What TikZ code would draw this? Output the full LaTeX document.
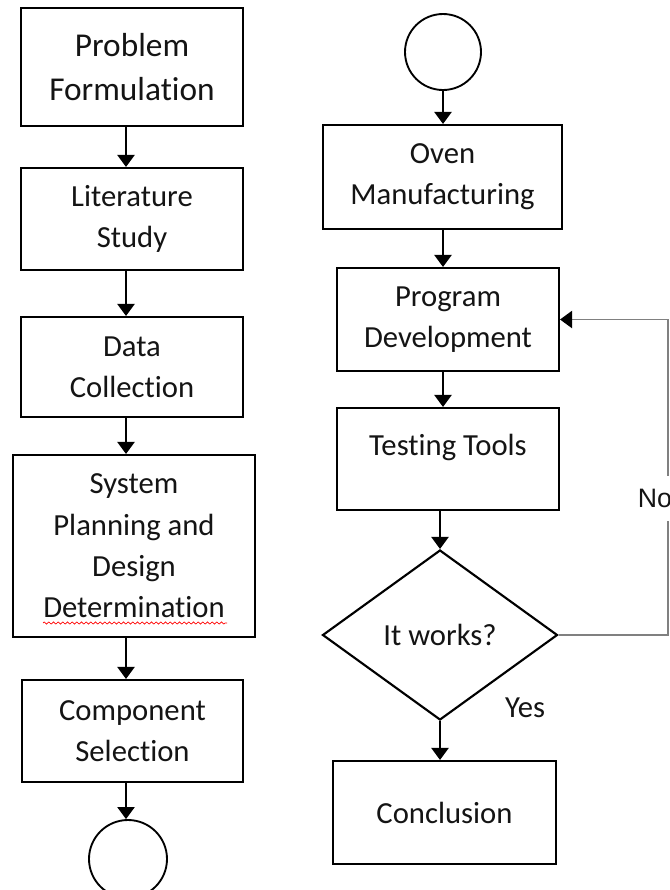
\documentclass[tikz,border=0pt]{standalone}
\usepackage{fontspec}
\setmainfont{Carlito}[Ligatures={NoCommon,NoContextual}]
\newfontfamily\arialfont{Liberation Sans}
\usetikzlibrary{shapes.geometric,arrows.meta,decorations.pathmorphing}
\definecolor{txt}{rgb}{0.08,0.08,0.08}
\definecolor{fbgray}{rgb}{0.5,0.5,0.5}
\tikzset{
  stepbox/.style={draw=black, line width=1.6pt, rectangle, inner sep=0pt, align=center, text=txt,
    font=\fontsize{23}{31}\selectfont},
  termcircle/.style={draw=black, line width=1.4pt, circle, inner sep=0pt},
  decision/.style={draw=black, line width=1.6pt, diamond, inner sep=0pt, align=center, text=txt,
    font=\fontsize{23}{31}\selectfont},
  arr/.style={line width=0.9pt, -{Triangle[width=13pt,length=9pt]}},
  fb/.style={draw=fbgray, line width=0.9pt, -{Triangle[width=13pt,length=9pt,color=black]}},
  lbl/.style={text=txt, inner sep=0pt, font=\fontsize{23}{31}\selectfont},
}
\begin{document}
\begin{tikzpicture}[x=0.75pt,y=-0.75pt]
\useasboundingbox (0,0) rectangle (670,890);
\fill[white] (0,0) rectangle (670,890);

% left column
\node[stepbox, minimum width={222*0.75pt}, minimum height={118*0.75pt}, font=\fontsize{25}{33}\selectfont] (p1) at (132,67) {Problem\\Formulation};
\node[stepbox, minimum width={222*0.75pt}, minimum height={102*0.75pt}] (p2) at (132,219) {Literature\\Study};
\node[stepbox, minimum width={222*0.75pt}, minimum height={100*0.75pt}] (p3) at (132,367) {Data\\Collection};
\node[stepbox, minimum width={242*0.75pt}, minimum height={182*0.75pt}] (p4) at (134,546) {System\\Planning and\\Design\\Determination};
\node[stepbox, minimum width={221*0.75pt}, minimum height={102*0.75pt}] (p5) at (132.5,731) {Component\\Selection};
\node[termcircle, minimum size={78*0.75pt}] (c1) at (128,859) {};

\coordinate (lc) at (126,0);
\draw[arr] (p1.south -| lc) -- (p2.north -| lc);
\draw[arr] (p2.south -| lc) -- (p3.north -| lc);
\draw[arr] (p3.south -| lc) -- (p4.north -| lc);
\draw[arr] (p4.south -| lc) -- (p5.north -| lc);
\draw[arr] (p5.south -| lc) -- (c1.north -| lc);

% spelling mark
\coordinate (sq1) at (43,623);
\coordinate (sq2) at (227,623);
\draw[red, line width=0.5pt, decorate, decoration={zigzag, segment length=3.5pt, amplitude=0.8pt}] (sq1) -- (sq2);

% right column
\node[termcircle, minimum size={76*0.75pt}] (c2) at (443,52) {};
\node[stepbox, minimum width={239*0.75pt}, minimum height={104*0.75pt}] (q1) at (442.5,177) {Oven\\Manufacturing};
\node[stepbox, minimum width={222*0.75pt}, minimum height={103*0.75pt}] (q2) at (448,319.5) {Program\\Development};
\node[stepbox, minimum width={222*0.75pt}, minimum height={102*0.75pt}] (q3) at (448,459) {\raisebox{9pt}[\height][\depth]{Testing Tools}};
\node[decision, minimum width={235*0.75pt}, minimum height={170*0.75pt}] (q4) at (440,635) {It works?};
\node[stepbox, minimum width={223*0.75pt}, minimum height={103*0.75pt}] (q5) at (444.5,812.5) {Conclusion};

\coordinate (rc) at (443,0);
\draw[arr] (c2.south -| rc) -- (q1.north -| rc);
\draw[arr] (q1.south -| rc) -- (q2.north -| rc);
\draw[arr] (q2.south -| rc) -- (q3.north -| rc);
\draw[arr] (q3.south -| q4.north) -- (q4.north);
\draw[arr] (q4.south) -- (q5.north -| q4.south);

% feedback
\coordinate (fx) at (668,0);
\draw[fb] (q4.east) -- (q4.east -| fx) -- (q2.east -| fx) -- (q2.east);
\node[fill=white, inner xsep=0pt, minimum height={45*0.75pt}, text=txt, font=\arialfont\fontsize{20}{24}\selectfont] (no) at (655,498) {No};
\node[lbl] (yes) at (525,708) {Yes};
\end{tikzpicture}
\end{document}
